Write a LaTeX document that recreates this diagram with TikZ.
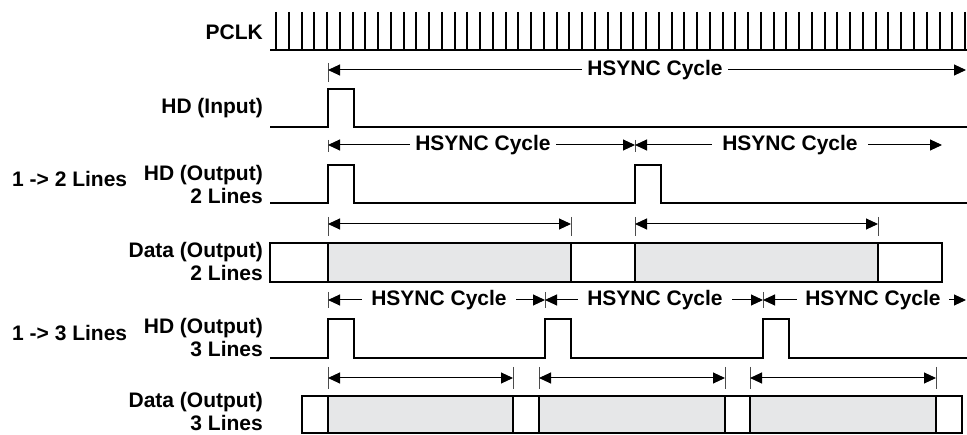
\documentclass[tikz,border=0pt]{standalone}
\usepackage{fontspec}
\setmainfont{Liberation Sans}
\usetikzlibrary{arrows.meta}
\definecolor{cellgray}{RGB}{230,231,232}

\begin{document}
\begin{tikzpicture}[x=1pt,y=-1pt,
	lbl/.style={font=\fontsize{21}{23}\selectfont\bfseries, inner sep=0pt, align=right, anchor=east},
	grp/.style={font=\fontsize{21}{23}\selectfont\bfseries, inner sep=0pt, anchor=west},
	cyc/.style={font=\fontsize{21}{23}\selectfont\bfseries, fill=white, inner xsep=5pt, inner ysep=1pt},
	wave/.style={line width=2.5pt},
	dim/.style={line width=1pt, {Triangle[length=12pt,width=11pt]}-{Triangle[length=12pt,width=11pt]}},
	tck/.style={line width=1pt, black!70},
	cell/.style={draw, line width=2.5pt, fill=cellgray}]

	\useasboundingbox (0,0) rectangle (967,435);

	\node[lbl] (pclk) at (263,32) {PCLK};
	\node[lbl] (hdin) at (263,108) {HD (Input)};
	\node[lbl] (hd2) at (263,184) {HD (Output)\\2 Lines};
	\node[lbl] (dat2) at (263,261) {Data (Output)\\2 Lines};
	\node[lbl] (hd3) at (263,338) {HD (Output)\\3 Lines};
	\node[lbl] (dat3) at (263,412) {Data (Output)\\3 Lines};
	\node[grp] (grp2) at (12,179) {1 -> 2 Lines};
	\node[grp] (grp3) at (12,333) {1 -> 3 Lines};

	% waveforms
	\draw[wave] (270,50) -- (967,50);
	\foreach \i in {0,...,54}
		\draw[line width=2pt] (276+\i*12.76,12) -- (276+\i*12.76,50);
	\draw[wave] (270,127) -| (328,89) -| (354,127) -- (967,127);
	\draw[wave] (270,203) -| (328,165) -| (354,203) -| (635,165) -| (661,203) -- (967,203);
	\draw[wave] (270,358) -| (328,319) -| (354,358) -| (545,319) -| (571,358) -| (763,319) -| (789,358) -- (967,358);

	% data cells
	\draw[line width=2.5pt] (270,243) rectangle (942,282);
	\draw[cell] (328,243) rectangle (571,282);
	\draw[cell] (635,243) rectangle (878,282);
	\draw[line width=2.5pt] (302,396) rectangle (962,433);
	\draw[cell] (328,396) rectangle (513,433);
	\draw[cell] (539,396) rectangle (725,433);
	\draw[cell] (750,396) rectangle (936,433);

	% cycle ticks
	\foreach \x/\a/\b in {328/63/82, 328/140/152, 635/140/152, 328/292/308, 545/292/308, 763/292/308,
		328/217/236, 571/217/236, 635/217/236, 878/217/236,
		328/367/389, 513/367/389, 539/367/389, 725/367/389, 750/367/389, 936/367/389}
		\draw[tck] (\x,\a) -- (\x,\b);

	\coordinate (a0) at (328,70);
	\coordinate (a1) at (966,70);
	\coordinate (b0) at (328,145);
	\coordinate (b1) at (635,145);
	\coordinate (b2) at (942,145);
	\coordinate (c0) at (328,300);
	\coordinate (c1) at (545,300);
	\coordinate (c2) at (763,300);
	\coordinate (c3) at (966,300);
	\coordinate (d0) at (328,224);
	\coordinate (d1) at (571,224);
	\coordinate (d2) at (635,224);
	\coordinate (d3) at (878,224);
	\coordinate (e0) at (328,378);
	\coordinate (e1) at (513,378);
	\coordinate (e2) at (539,378);
	\coordinate (e3) at (725,378);
	\coordinate (e4) at (750,378);
	\coordinate (e5) at (936,378);

	\path[dim]
	(a0) edge (a1)
	(b0) edge (b1)
	(b1) edge (b2)
	(c0) edge (c1)
	(c1) edge (c2)
	(c2) edge (c3)
	(d0) edge (d1)
	(d2) edge (d3)
	(e0) edge (e1)
	(e2) edge (e3)
	(e4) edge (e5);

	\node[cyc] (t1) at (655,70) {HSYNC Cycle};
	\node[cyc] (t2) at (483,145) {HSYNC Cycle};
	\node[cyc, inner xsep=10pt] (t3) at (790,145) {HSYNC Cycle};
	\node[cyc, inner xsep=9pt] (t4) at (439,300) {HSYNC Cycle};
	\node[cyc, inner xsep=9pt] (t5) at (655,300) {HSYNC Cycle};
	\node[cyc, inner xsep=8pt] (t6) at (873,300) {HSYNC Cycle};

\end{tikzpicture}
\end{document}
